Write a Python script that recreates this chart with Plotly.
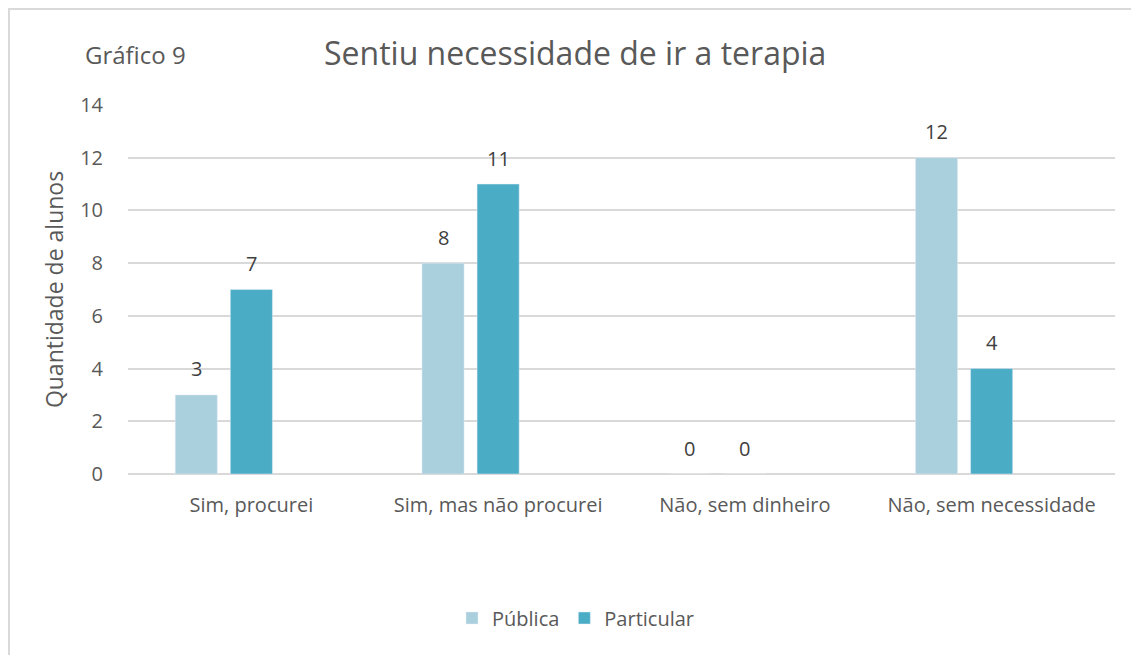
import plotly.graph_objects as go

categories = ["Sim, procurei", "Sim, mas não procurei", "Não, sem dinheiro", "Não, sem necessidade"]
publica = [3, 8, 0, 12]
particular = [7, 11, 0, 4]
empty_series = [None, None, None, None]
y_ticks = [0, 2, 4, 6, 8, 10, 12, 14]

OFF = 8  # page body margin
W, H = 1139 - OFF, 655 - OFF
# plot area in screen pixels: x 128..1115, y 105..474
L, R, T, B = 128 - OFF, 1139 - 1115, 105 - OFF, 655 - 474
pw, ph = W - L - R, H - T - B

def px(x):
    return (x - OFF - L) / pw

def py(y):
    return (H - B - (y - OFF)) / ph

FONT = "Open Sans"
GRAY = "#595959"
BARGAP, GROUPGAP = 0.33, 0.236
slot = pw / len(categories) * (1 - BARGAP) / 3

fig = go.Figure()
fig.add_trace(go.Bar(name="Pública", x=categories, y=publica, marker_color="#AACFDD"))
fig.add_trace(go.Bar(name="Particular", x=categories, y=particular, marker_color="#4BACC6"))
fig.add_trace(go.Bar(name="", x=categories, y=empty_series, showlegend=False,
                     marker_color="rgba(0,0,0,0)", hoverinfo="skip"))

annotations = []
for series, shift in ((publica, -slot), (particular, 0)):
    for cat, v in zip(categories, series):
        annotations.append(dict(x=cat, y=v, text=str(v), showarrow=False, xshift=shift,
                                yshift=26, yanchor="middle", xanchor="center",
                                font=dict(size=20, color="#404040", family=FONT)))

annotations += [
    dict(text="Sentiu necessidade de ir a terapia", xref="paper", yref="paper",
         x=px(575), y=py(52), xanchor="center", yanchor="middle", showarrow=False,
         font=dict(size=32, color=GRAY, family=FONT)),
    dict(text="Gráfico 9", xref="paper", yref="paper",
         x=px(83), y=py(55), xanchor="left", yanchor="middle", showarrow=False,
         font=dict(size=24, color=GRAY, family=FONT)),
]

fig.update_layout(
    width=W, height=H,
    margin=dict(l=L, r=R, t=T, b=B),
    paper_bgcolor="white", plot_bgcolor="white",
    barmode="group", bargap=BARGAP, bargroupgap=GROUPGAP,
    font=dict(family=FONT, color=GRAY, size=20),
    showlegend=True,
    legend=dict(orientation="h", x=px(576), xanchor="center", y=py(618), yanchor="middle",
                font=dict(size=20, color=GRAY), itemwidth=30, tracegroupgap=0),
    xaxis=dict(showgrid=False, showline=False, zeroline=False,
               ticks="outside", ticklen=13, tickcolor="rgba(0,0,0,0)",
               tickfont=dict(size=20, color=GRAY)),
    yaxis=dict(range=[0, 14], tickvals=y_ticks, showgrid=True, gridcolor="#D9D9D9",
               gridwidth=1.5, zeroline=True, zerolinecolor="#D9D9D9", zerolinewidth=1.5,
               showline=False, ticks="outside", ticklen=20, tickcolor="rgba(0,0,0,0)",
               tickfont=dict(size=20, color=GRAY),
               title=dict(text="Quantidade de alunos", font=dict(size=23, color=GRAY), standoff=10)),
    annotations=annotations,
    shapes=[
        dict(type="path", xref="paper", yref="paper",
             path=f"M {px(9)},{py(700)} L {px(9)},{py(9)} L {px(1200)},{py(9)}",
             line=dict(color="#D9D9D9", width=2)),
    ],
)

fig.write_html("out.html")
